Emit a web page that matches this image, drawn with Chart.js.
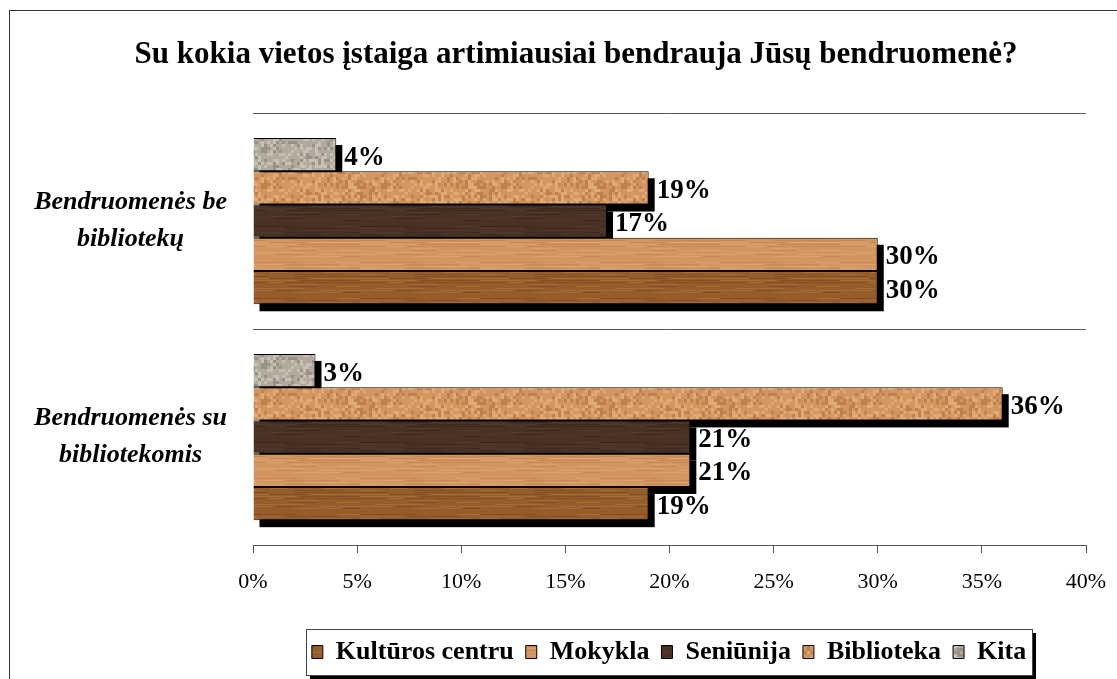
<!DOCTYPE html>
<html>
<head>
<meta charset="utf-8">
<script src="https://cdn.jsdelivr.net/npm/chart.js@4"></script>
<style>
  html, body { margin: 0; padding: 0; background: #fff; }
  #wrap { width: 1117px; height: 679px; }
</style>
</head>
<body>
<div id="wrap"><canvas id="chart"></canvas></div>
<script>
// categories, top to bottom
const categories = [['Bendruomenės be', 'bibliotekų'], ['Bendruomenės su', 'bibliotekomis']];

// values in %, one per category
const kulturosCentru = [30, 19];
const mokykla = [30, 21];
const seniunija = [17, 21];
const biblioteka = [19, 36];
const kita = [4, 3];

const xTicksMax = 40;
const xTicksStep = 5;

const serif = '"Liberation Serif", "Times New Roman", serif';

// small deterministic hash for the wood / stone textures
function hash(a, b) {
    let h = (a * 374761393 + b * 668265263) | 0;
    h = Math.imul(h ^ (h >>> 13), 1274126177);
    return ((h ^ (h >>> 16)) >>> 0) / 4294967295;
}

function makePattern(base, dark, light, kind) {
    const c = document.createElement('canvas');
    c.width = 120;
    c.height = 36;
    const g = c.getContext('2d');
    g.fillStyle = base;
    g.fillRect(0, 0, c.width, c.height);
    if (kind === 'wood') {
        g.globalAlpha = 0.45;
        for (let y = 0; y < c.height; y += 2) {
            let x = 0;
            while (x < c.width) {
                const len = 12 + hash(x, y) * 40;
                const r = hash(y, x + 3);
                if (r < 0.3) { g.fillStyle = dark; g.fillRect(x, y, len, 1); }
                else if (r > 0.75) { g.fillStyle = light; g.fillRect(x, y, len, 1); }
                x += len + 2;
            }
        }
    } else {
        g.globalAlpha = 0.5;
        for (let y = 0; y < c.height; y += 3) {
            for (let x = 0; x < c.width; x += 3) {
                const r = hash(x, y);
                if (r < 0.22) { g.fillStyle = dark; g.fillRect(x, y, 3, 3); }
                else if (r > 0.72) { g.fillStyle = light; g.fillRect(x, y, 3, 3); }
            }
        }
    }
    return g.createPattern(c, 'repeat');
}

const fills = {
    kultura: makePattern('#955c2c', '#6e3f1a', '#b57c46', 'wood'),
    mokykla: makePattern('#d49660', '#b87846', '#e6b27e', 'wood'),
    seniunija: makePattern('#4a3125', '#2f1e15', '#5e4333', 'wood'),
    biblioteka: makePattern('#d3965e', '#a9693a', '#ecbd8c', 'stone'),
    kita: makePattern('#b3aa9e', '#7f776c', '#ddd6cc', 'stone')
};

// title and legend sit off-centre in the original
const shiftPlugin = {
    id: 'shiftBlocks',
    afterLayout(chart) {
        chart.titleBlock.left += 18;
        chart.titleBlock.right += 18;
        chart.legend.left += 111;
        chart.legend.right += 111;
    }
};

// frame round the whole chart, and the legend box
const framePlugin = {
    id: 'frame',
    beforeDraw(chart) {
        const ctx = chart.ctx;
        ctx.save();
        ctx.strokeStyle = '#333';
        ctx.lineWidth = 1;
        ctx.strokeRect(9.5, 10.5, chart.width + 20, chart.height + 20);

        const boxes = chart.legend.legendHitBoxes;
        if (boxes && boxes.length) {
            const left = Math.round(Math.min(...boxes.map(b => b.left)) - 6);
            const right = Math.round(Math.max(...boxes.map(b => b.left + b.width)) + 6);
            const top = Math.round(boxes[0].top - 10);
            const bottom = Math.round(boxes[0].top + boxes[0].height + 10);
            ctx.fillStyle = '#000';
            ctx.fillRect(left + 4, top + 4, right - left, bottom - top);
            ctx.fillStyle = '#fff';
            ctx.fillRect(left, top, right - left, bottom - top);
            ctx.strokeStyle = '#444';
            ctx.strokeRect(left + 0.5, top + 0.5, right - left, bottom - top);
        }
        ctx.restore();
    }
};

// black drop shadows under the bars
const shadowPlugin = {
    id: 'barShadow',
    beforeDatasetsDraw(chart) {
        const ctx = chart.ctx;
        ctx.save();
        ctx.fillStyle = '#000';
        chart.data.datasets.forEach((ds, i) => {
            chart.getDatasetMeta(i).data.forEach(bar => {
                const h = bar.height;
                ctx.fillRect(bar.base + 6, bar.y - h / 2 + 7, bar.x - bar.base, h);
            });
        });
        ctx.restore();
    }
};

// value labels to the right of each bar
const labelPlugin = {
    id: 'valueLabels',
    afterDatasetsDraw(chart) {
        const ctx = chart.ctx;
        ctx.save();
        ctx.font = 'bold 27px ' + serif;
        ctx.fillStyle = '#000';
        ctx.textAlign = 'left';
        ctx.textBaseline = 'middle';
        chart.data.datasets.forEach((ds, i) => {
            chart.getDatasetMeta(i).data.forEach((bar, j) => {
                ctx.fillText(ds.data[j] + '%', bar.x + 8, bar.y + 3);
            });
        });
        ctx.restore();
    }
};

function dataset(label, values, fill) {
    return {
        label: label,
        data: values,
        backgroundColor: fill,
        borderColor: '#000',
        borderWidth: 1,
        categoryPercentage: 0.77,
        barPercentage: 1
    };
}

const ctx = document.getElementById('chart').getContext('2d');
new Chart(ctx, {
    type: 'bar',
    data: {
        labels: categories,
        datasets: [
            dataset('Kita', kita, fills.kita),
            dataset('Biblioteka', biblioteka, fills.biblioteka),
            dataset('Seniūnija', seniunija, fills.seniunija),
            dataset('Mokykla', mokykla, fills.mokykla),
            dataset('Kultūros centru', kulturosCentru, fills.kultura)
        ]
    },
    options: {
        indexAxis: 'y',
        responsive: true,
        maintainAspectRatio: false,
        animation: false,
        layout: { padding: { top: 10, left: 30, right: 31, bottom: 4 } },
        scales: {
            x: {
                min: 0,
                max: xTicksMax,
                afterFit(scale) {
                    scale.height = 82;
                    scale.paddingLeft = 0;
                    scale.paddingRight = 0;
                },
                ticks: {
                    stepSize: xTicksStep,
                    color: '#000',
                    padding: 16,
                    font: { family: serif, size: 22 },
                    callback: v => v + '%'
                },
                grid: { drawOnChartArea: false, tickLength: 8, color: '#555' },
                border: { color: '#555' }
            },
            y: {
                afterFit(scale) { scale.width = 223; },
                ticks: {
                    color: '#000',
                    crossAlign: 'center',
                    padding: 26,
                    font: { family: serif, size: 26, style: 'italic', weight: 'bold', lineHeight: 1.42 }
                },
                grid: { drawTicks: false, color: '#555' },
                border: { display: false }
            }
        },
        plugins: {
            title: {
                display: true,
                text: 'Su kokia vietos įstaiga artimiausiai bendrauja Jūsų bendruomenė?',
                color: '#000',
                font: { family: serif, size: 31, weight: 'bold' },
                padding: { top: 26, bottom: 40 }
            },
            legend: {
                position: 'bottom',
                reverse: true,
                labels: {
                    color: '#000',
                    boxWidth: 11,
                    boxHeight: 13,
                    padding: 12,
                    font: { family: serif, size: 26, weight: 'bold' }
                }
            },
            tooltip: { enabled: false }
        }
    },
    plugins: [shiftPlugin, framePlugin, shadowPlugin, labelPlugin]
});
</script>
</body>
</html>
